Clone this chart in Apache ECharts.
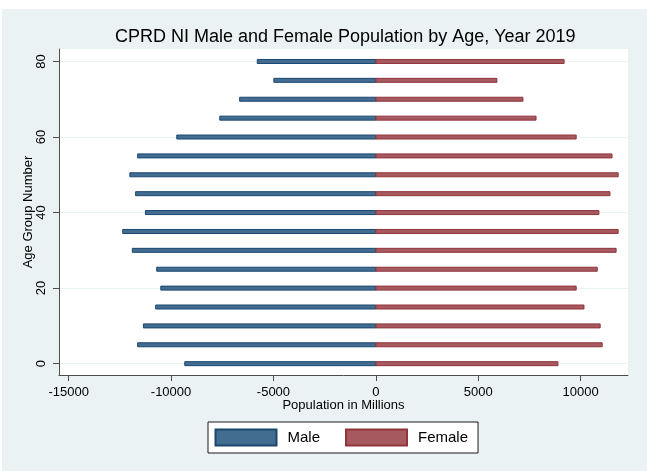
<!DOCTYPE html>
<html>
<head>
<meta charset="utf-8">
<script src="https://cdn.jsdelivr.net/npm/echarts@6/dist/echarts.min.js"></script>
<style>
  html, body { margin: 0; padding: 0; background: #ffffff; }
  #chart { position: absolute; left: 2px; top: 9px; width: 645px; height: 462px; }
</style>
</head>
<body>
<div id="chart"></div>
<script>
// Age groups (lower bound of each 5-year band)
const ageGroups = [0, 5, 10, 15, 20, 25, 30, 35, 40, 45, 50, 55, 60, 65, 70, 75, 80];
// Male counts drawn to the left of zero (negative values)
const maleValues = [-9330, -11630, -11350, -10750, -10500, -10700, -11890, -12360, -11250, -11730, -12010, -11630, -9720, -7620, -6650, -4980, -5790];
// Female counts drawn to the right of zero
const femaleValues = [8890, 11050, 10950, 10160, 9780, 10810, 11730, 11830, 10890, 11430, 11830, 11530, 9780, 7820, 7180, 5910, 9190];
// Axis tick labels
const xTicks = [-15000, -10000, -5000, 0, 5000, 10000];
const yTicks = [0, 20, 40, 60, 80];

const FONT = 'Liberation Sans, Arial, sans-serif';
const chart = echarts.init(document.getElementById('chart'), null, { renderer: 'canvas' });

// Horizontal bar from zero to the value, placed at its age group
function barItem(params, api) {
  const v = api.value(0);
  const age = api.value(1);
  const p0 = api.coord([0, age]);
  const p1 = api.coord([v, age]);
  const h = 4;
  return {
    type: 'rect',
    shape: {
      x: Math.min(p0[0], p1[0]),
      y: p0[1] - h / 2,
      width: Math.abs(p1[0] - p0[0]),
      height: h
    },
    style: api.style()
  };
}

const plain = v => String(v);

chart.setOption({
  backgroundColor: '#eaf2f3',
  animation: false,
  title: {
    text: 'CPRD NI Male and Female Population by Age, Year 2019',
    left: 113,
    top: 19,
    padding: 0,
    textStyle: { fontFamily: FONT, fontSize: 18, fontWeight: 'normal', color: '#000' }
  },
  grid: {
    left: 57, top: 40, right: 19, bottom: 96,
    show: true, backgroundColor: '#ffffff', borderWidth: 0
  },
  legend: {
    data: ['Male', 'Female'],
    left: 206, top: 413,
    orient: 'horizontal',
    icon: 'rect',
    itemWidth: 61, itemHeight: 16, itemGap: 25,
    padding: [6.5, 10, 6.5, 6.5],
    backgroundColor: '#ffffff',
    borderColor: '#1a1a1a', borderWidth: 1,
    textStyle: { fontFamily: FONT, fontSize: 15, color: '#000', padding: [0, 0, 0, 6] }
  },
  xAxis: {
    type: 'value',
    min: -15470, max: 12310,
    name: 'Population in Millions',
    nameLocation: 'middle',
    nameGap: 24,
    nameMoveOverlap: false,
    nameTextStyle: { fontFamily: FONT, fontSize: 13, color: '#000' },
    axisLine: { show: true, onZero: false, lineStyle: { color: '#4d4d4d', width: 1 } },
    axisTick: { show: true, length: 6, customValues: xTicks, lineStyle: { color: '#4d4d4d' } },
    axisLabel: { customValues: xTicks, formatter: plain, margin: 11, fontFamily: FONT, fontSize: 13, color: '#000' },
    splitLine: { show: false }
  },
  yAxis: {
    type: 'value',
    min: -3, max: 83.3,
    splitNumber: 5,
    name: 'Age Group Number',
    nameLocation: 'middle',
    nameGap: 24,
    nameRotate: 90,
    nameMoveOverlap: false,
    nameTextStyle: { fontFamily: FONT, fontSize: 13, color: '#000' },
    axisLine: { show: true, onZero: false, lineStyle: { color: '#4d4d4d', width: 1 } },
    axisTick: { show: true, length: 6, customValues: yTicks, lineStyle: { color: '#4d4d4d' } },
    axisLabel: { customValues: yTicks, formatter: plain, rotate: 90, margin: 11, fontFamily: FONT, fontSize: 13, color: '#000' },
    splitLine: { show: true, lineStyle: { color: '#eaf2f3', width: 1 } }
  },
  series: [
    {
      name: 'Male',
      type: 'custom',
      renderItem: barItem,
      encode: { x: 0, y: 1 },
      itemStyle: { color: '#436c91', borderColor: '#1a476f', borderWidth: 1 },
      data: maleValues.map((v, i) => [v, ageGroups[i]])
    },
    {
      name: 'Female',
      type: 'custom',
      renderItem: barItem,
      encode: { x: 0, y: 1 },
      itemStyle: { color: '#a65a60', borderColor: '#90353b', borderWidth: 1 },
      data: femaleValues.map((v, i) => [v, ageGroups[i]])
    }
  ]
});
</script>
</body>
</html>
